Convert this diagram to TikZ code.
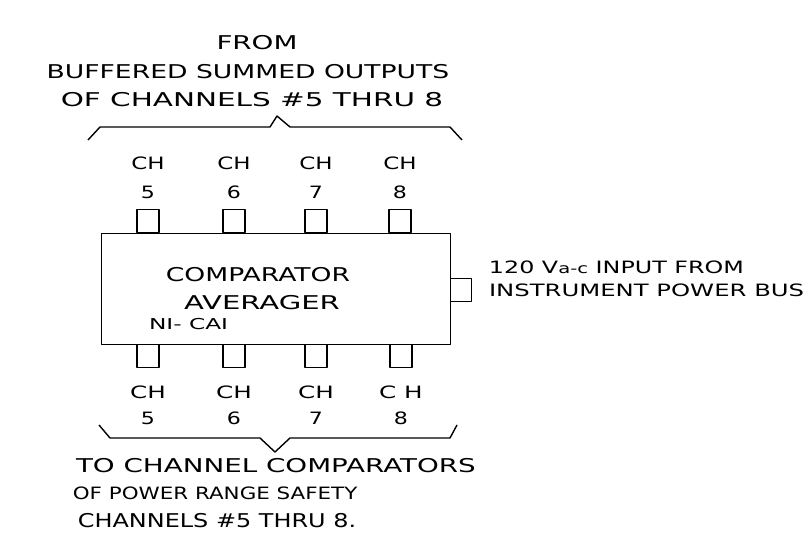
\documentclass[tikz,border=0pt]{standalone}
\usepackage{fontspec}
\setmainfont{DejaVu Sans}
\begin{document}
\begin{tikzpicture}[x=1pt,y=-1pt,line width=1.4pt,line join=round,
  pinbox/.style={draw,rectangle,minimum width=22pt,minimum height=23pt,inner sep=0pt,line width=1.4pt},
  lbl/.style={font=\fontsize{17}{17}\selectfont,inner sep=0pt},
  big/.style={font=\fontsize{19}{19}\selectfont,inner sep=0pt},
  small/.style={font=\fontsize{15}{15}\selectfont,inner sep=0pt}]
\useasboundingbox (0,0) rectangle (812,533);
% main box
\node[draw,rectangle,minimum width=349pt,minimum height=111pt,inner sep=0pt,anchor=north west] (box) at (101,233) {};
% top pins
\foreach \n/\x in {5/148,6/234,7/316,8/400}{
  \node[pinbox,anchor=south] (t\n) at (\x,233) {};
  \node[lbl,xscale=1.35] (tc\n) at (\x,163) {CH};
  \node[lbl,xscale=1.3] (tn\n) at (\x,192) {\n};
}
% bottom pins
\foreach \n/\x/\t in {5/148/CH,6/234/CH,7/316/CH,8/401/C H}{
  \node[pinbox,anchor=north] (b\n) at (\x,344) {};
  \node[lbl,xscale=1.45] (bc\n) at (\x,392) {\t};
  \node[lbl,xscale=1.3] (bn\n) at (\x,418) {\n};
}
% right pin
\node[pinbox,anchor=west,minimum width=21pt] (rp) at (450,290) {};
% box texts
\node[big,xscale=1.4] (t1) at (258,275) {COMPARATOR};
\node[big,xscale=1.53] (t2) at (262,303) {AVERAGER};
\node[small,anchor=west,xscale=1.55] (t3) at (148,324) {NI- CAI};
% right texts
\node[lbl,anchor=west,xscale=1.4] (r1) at (488,267) {120 V{\fontsize{14}{14}\selectfont a-c} INPUT FROM};
\node[lbl,anchor=west,xscale=1.43] (r2) at (488,290) {INSTRUMENT POWER BUS};
% top texts
\node[big,xscale=1.46] (h1) at (257,43) {FROM};
\node[big,xscale=1.4] (h2) at (248,72) {BUFFERED SUMMED OUTPUTS};
\node[big,xscale=1.55] (h3) at (252,100) {OF CHANNELS \#5 THRU 8};
% top brace
\draw (88,140) -- (100,127) -- (270,127) -- (277,116) -- (290,127) -- (450,127) -- (462,140);
% bottom brace
\draw (99,425) -- (110,438) -- (260,438) -- (275,452) -- (290,438) -- (450,438) -- (457,425);
% bottom texts
\node[big,anchor=west,xscale=1.46] (f1) at (75,466) {TO CHANNEL COMPARATORS};
\node[lbl,anchor=west,xscale=1.26] (f2) at (72,493) {OF POWER RANGE SAFETY};
\node[big,anchor=west,xscale=1.26] (f3) at (77,521) {CHANNELS \#5 THRU 8.};
\end{tikzpicture}
\end{document}
